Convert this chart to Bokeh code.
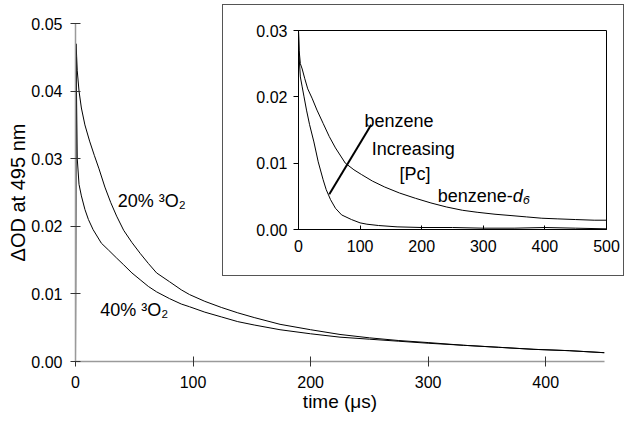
from bokeh.plotting import figure
from bokeh.models import Range1d, FixedTicker, NumeralTickFormatter, Label, Column, Title
from bokeh.embed import file_html
from bokeh.resources import INLINE

FONT = "Liberation Sans"

# ---------------- data ----------------
t_20 = [0, 0.5, 1.5, 3, 5, 8, 12, 16, 20, 25, 30, 35, 41, 48, 55, 62, 69, 80, 90, 97,
        110, 124, 138, 152, 174, 200, 225, 250, 275, 300, 330, 360, 390, 420, 450]
od_20 = [0.000, 0.047, 0.043, 0.040, 0.0375, 0.0350, 0.0326, 0.0305, 0.0285, 0.0258,
         0.0235, 0.0215, 0.0194, 0.0176, 0.0160, 0.0145, 0.0131, 0.0118, 0.0106, 0.0099,
         0.0089, 0.0080, 0.0072, 0.0065, 0.0055, 0.0047, 0.0040, 0.0035, 0.0031, 0.0028,
         0.0024, 0.0021, 0.0018, 0.0016, 0.0013]

t_40 = [0, 0.5, 1.5, 3, 5, 8, 11, 15, 22, 28, 35, 41, 48, 55, 62, 69, 80, 90, 97,
        110, 124, 138, 152, 174, 200, 225, 250, 275, 300, 330, 360, 390, 420, 450]
od_40 = [0.000, 0.045, 0.030, 0.0262, 0.0245, 0.0225, 0.0210, 0.0195, 0.0175, 0.0165,
         0.0153, 0.0143, 0.0131, 0.0121, 0.0111, 0.0103, 0.0093, 0.0085, 0.0081,
         0.0073, 0.0066, 0.0059, 0.0054, 0.0047, 0.0041, 0.0036, 0.0033, 0.0030, 0.0027,
         0.0024, 0.0021, 0.0018, 0.0016, 0.0013]

t_d6 = [0, 1, 3, 6, 10, 15, 22, 30, 40, 50, 60, 76, 90, 102, 120, 140, 164, 190, 215,
        240, 266, 290, 319, 345, 370, 395, 421, 450, 480, 500]
od_d6 = [0.030, 0.027, 0.025, 0.0242, 0.0228, 0.0212, 0.0198, 0.0180, 0.0160, 0.0140,
         0.0123, 0.0100, 0.0090, 0.0083, 0.0073, 0.0064, 0.0055, 0.0047, 0.0040, 0.0034,
         0.0029, 0.0026, 0.0023, 0.0021, 0.0019, 0.0017, 0.0016, 0.0015, 0.0014, 0.0014]

t_bz = [0, 1, 3, 6, 9, 13, 18, 25, 32, 40, 45, 52, 60, 70, 86, 100, 111, 130, 160, 200,
        250, 300, 350, 400, 450, 500]
od_bz = [0.030, 0.026, 0.023, 0.0215, 0.0200, 0.0180, 0.0158, 0.0132, 0.0102, 0.0075,
         0.0060, 0.0045, 0.0032, 0.0022, 0.0015, 0.0010, 0.0008, 0.0006, 0.0004, 0.0003,
         0.0003, 0.0002, 0.0002, 0.0003, 0.0002, 0.0001]

main_x_ticks = [0, 100, 200, 300, 400]
main_y_ticks = [0.00, 0.01, 0.02, 0.03, 0.04, 0.05]
inset_x_ticks = [0, 100, 200, 300, 400, 500]
inset_y_ticks = [0.00, 0.01, 0.02, 0.03]

# "Increasing [Pc]" pointer line (inset data units)
pointer_t = [118, 50]
pointer_od = [0.0158, 0.0053]

# ---------------- main plot ----------------
main = figure(width=623, height=414, output_backend="svg", toolbar_location=None,
              x_range=Range1d(0, 450), y_range=Range1d(0, 0.05),
              min_border_left=75, min_border_right=4, min_border_top=23,
              min_border_bottom=53, background_fill_color="white",
              border_fill_color="white")
main.outline_line_color = None
main.grid.visible = False

main.line(t_20, od_20, line_color="black", line_width=1)
main.line(t_40, od_40, line_color="black", line_width=1)

for ax in (main.xaxis[0], main.yaxis[0]):
    ax.axis_line_color = "#9a9a9a"
    ax.axis_line_width = 1.5
    ax.major_tick_line_color = "#333333"
    ax.major_tick_in = 5
    ax.major_tick_out = 5
    ax.minor_tick_line_color = None
    ax.major_label_text_font = FONT
    ax.major_label_text_font_size = "16px"
    ax.major_label_text_color = "black"

xa = main.xaxis[0]
xa.ticker = FixedTicker(ticks=main_x_ticks)
xa.major_label_standoff = 9
xa.axis_label = "time (μs)"
xa.axis_label_text_font = FONT
xa.axis_label_text_font_size = "19px"
xa.axis_label_text_font_style = "normal"
xa.axis_label_text_color = "black"
xa.axis_label_standoff = 0

ya = main.yaxis[0]
ya.ticker = FixedTicker(ticks=main_y_ticks)
ya.formatter = NumeralTickFormatter(format="0.00")
ya.major_label_standoff = 8

main.add_layout(Title(text="ΔOD at 495 nm", align="center", offset=29,
                      text_font=FONT, text_font_size="20px",
                      text_font_style="normal", text_color="black",
                      standoff=0), "left")

main.add_layout(Label(x=36, y=0.0238, text="20% ³O₂", text_align="left",
                      text_baseline="middle", text_font=FONT,
                      text_font_size="18px", text_color="black"))
main.add_layout(Label(x=21, y=0.0076, text="40% ³O₂", text_align="left",
                      text_baseline="middle", text_font=FONT,
                      text_font_size="18px", text_color="black"))

# ---------------- inset ----------------
inset = figure(width=402, height=272, output_backend="svg", toolbar_location=None,
               x_range=Range1d(0, 500), y_range=Range1d(0, 0.03),
               min_border_left=60, min_border_right=19, min_border_top=25,
               min_border_bottom=48, background_fill_color="white",
               border_fill_color="white",
               margin=(-410, 0, 136, 222),
               styles={"border": "1px solid #555555"})
inset.outline_line_color = "black"
inset.outline_line_width = 1
inset.grid.visible = False

inset.line(t_d6, od_d6, line_color="black", line_width=1)
inset.line(t_bz, od_bz, line_color="black", line_width=1)
inset.line(pointer_t, pointer_od, line_color="black", line_width=2)

for ax in (inset.xaxis[0], inset.yaxis[0]):
    ax.axis_line_color = "black"
    ax.axis_line_width = 1
    ax.major_tick_line_color = "black"
    ax.minor_tick_line_color = None
    ax.major_label_text_font = FONT
    ax.major_label_text_font_size = "16px"
    ax.major_label_text_color = "black"

inset.xaxis[0].ticker = FixedTicker(ticks=inset_x_ticks)
inset.xaxis[0].major_tick_in = 4
inset.xaxis[0].major_tick_out = 0
inset.xaxis[0].major_label_standoff = 10
inset.yaxis[0].ticker = FixedTicker(ticks=inset_y_ticks)
inset.yaxis[0].formatter = NumeralTickFormatter(format="0.00")
inset.yaxis[0].major_tick_in = 0
inset.yaxis[0].major_tick_out = 5
inset.yaxis[0].major_label_standoff = 6

for txt, tx, ty in [("benzene", 107, 0.0164), ("Increasing", 119, 0.0122),
                    ("[Pc]", 164, 0.0083), ("benzene-", 226, 0.0050)]:
    inset.add_layout(Label(x=tx, y=ty, text=txt, text_align="left",
                           text_baseline="middle", text_font=FONT,
                           text_font_size="18px", text_color="black"))
inset.add_layout(Label(x=226, y=0.0050, x_offset=75, text="d₆", text_align="left",
                       text_baseline="middle", text_font=FONT,
                       text_font_style="italic",
                       text_font_size="18px", text_color="black"))

layout = Column(main, inset, spacing=0)

open("out.html", "w").write(file_html(layout, INLINE))
